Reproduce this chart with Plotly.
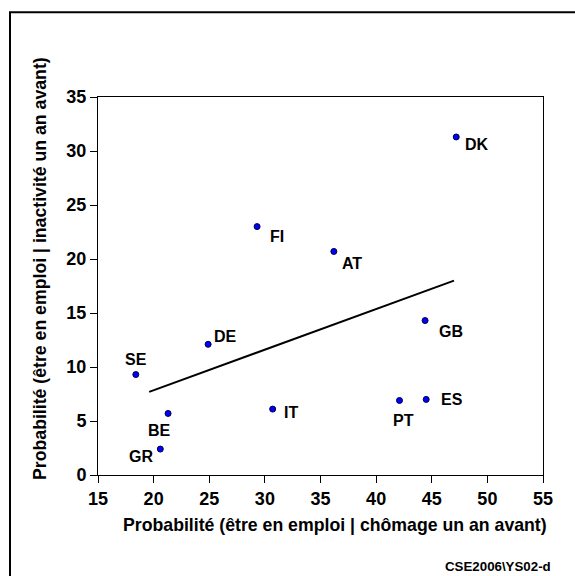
import numpy as np
import plotly.graph_objects as go

# Country codes and transition probabilities (%)
countries = ["DK", "FI", "AT", "GB", "DE", "SE", "BE", "GR", "IT", "PT", "ES"]
p_from_unemployment = [47.2, 29.3, 36.2, 44.4, 24.9, 18.4, 21.3, 20.6, 30.7, 42.1, 44.5]
p_from_inactivity = [31.3, 23.0, 20.7, 14.3, 12.1, 9.3, 5.7, 2.4, 6.1, 6.9, 7.0]
fit_x_range = [19.6, 47.0]

x_ticks = [15, 20, 25, 30, 35, 40, 45, 50, 55]
y_ticks = [0, 5, 10, 15, 20, 25, 30, 35]

# Label placement around each point, in pixels (right, up)
label_offsets = {
    "DK": (21, -8), "FI": (20, -10), "AT": (18, -12), "GB": (26, -11),
    "DE": (17, 8), "SE": (0, 15), "BE": (-9, -17), "GR": (-19, -7),
    "IT": (18, -3), "PT": (4, -20), "ES": (26, 0),
}

W, H = 575, 576
ML, MR, MT, MB = 98, 32, 97, 101
PW, PH = W - ML - MR, H - MT - MB


def px_to_paper(px, py):
    return (px - ML) / PW, (H - MB - py) / PH


FONT = "Liberation Sans, Arial, sans-serif"

slope, intercept = np.polyfit(p_from_unemployment, p_from_inactivity, 1)
fit_x = np.array(fit_x_range)
fit_y = slope * fit_x + intercept

fig = go.Figure()
fig.add_trace(go.Scatter(
    x=fit_x, y=fit_y, mode="lines",
    line=dict(color="black", width=2), hoverinfo="skip", showlegend=False,
))
fig.add_trace(go.Scatter(
    x=p_from_unemployment, y=p_from_inactivity, mode="markers",
    marker=dict(color="#0000ff", size=6, line=dict(color="#000040", width=1)),
    text=countries, showlegend=False,
))

annotations = []
for c, xv, yv in zip(countries, p_from_unemployment, p_from_inactivity):
    dx, dy = label_offsets[c]
    annotations.append(dict(
        x=xv, y=yv, xref="x", yref="y", text=c, showarrow=False,
        xshift=dx, yshift=dy,
        font=dict(family=FONT, size=16, color="black", weight="bold"),
    ))

ax, ay = px_to_paper(335, 525)
annotations.append(dict(
    x=ax, y=ay, xref="paper", yref="paper", showarrow=False,
    text="Probabilité (être en emploi | chômage un an avant)",
    font=dict(family=FONT, size=17.7, color="black", weight="bold"),
    xanchor="center", yanchor="middle",
))
bx, by = px_to_paper(40, 269)
annotations.append(dict(
    x=bx, y=by, xref="paper", yref="paper", showarrow=False, textangle=-90,
    text="Probabilité (être en emploi | inactivité un an avant)",
    font=dict(family=FONT, size=17.7, color="black", weight="bold"),
    xanchor="center", yanchor="middle",
))
fx, fy = px_to_paper(553, 566)
annotations.append(dict(
    x=fx, y=fy, xref="paper", yref="paper", showarrow=False,
    text="CSE2006\\YS02-d",
    font=dict(family=FONT, size=13.3, color="black", weight="bold"),
    xanchor="right", yanchor="middle",
))

# Outer frame (left and top edges inside the page)
x0, y1 = px_to_paper(10, 12.3)
x1, y0 = px_to_paper(590, 590)

axis_common = dict(
    showgrid=False, zeroline=False, showline=True, linecolor="black", linewidth=1,
    mirror=True, ticks="outside", ticklen=7, tickcolor="black", tickwidth=1,
    tickfont=dict(family=FONT, size=18, color="black", weight="bold"),
)

fig.update_layout(
    width=W, height=H,
    margin=dict(l=ML, r=MR, t=MT, b=MB),
    paper_bgcolor="white", plot_bgcolor="white",
    xaxis=dict(range=[15, 55], tickvals=x_ticks, **axis_common),
    yaxis=dict(range=[0, 35], tickvals=y_ticks, **axis_common),
    annotations=annotations,
    shapes=[dict(
        type="rect", xref="paper", yref="paper",
        x0=x0, x1=x1, y0=y0, y1=y1,
        line=dict(color="black", width=2), fillcolor="rgba(0,0,0,0)",
        layer="above",
    )],
)

fig.write_html("out.html")
